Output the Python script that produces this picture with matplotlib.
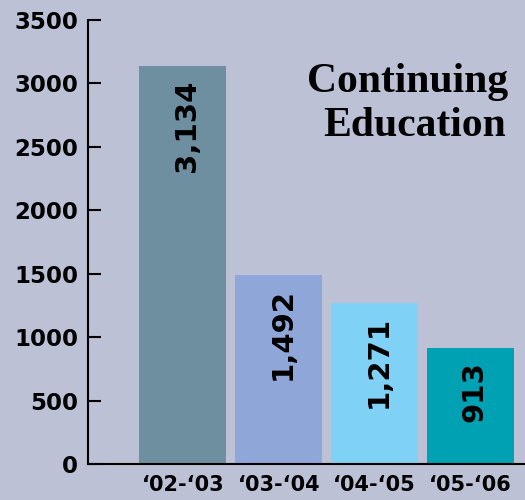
import numpy as np
from matplotlib import pyplot as plt

# data
years = ['\u201802-\u201803', '\u201803-\u201804', '\u201804-\u201805', '\u201805-\u201806']
enrolled = [3134, 1492, 1271, 913]
bar_colors = ['#6e8f9f', '#8fa7d8', '#7fd1f5', '#00a1b3']
y_ticks = [0, 500, 1000, 1500, 2000, 2500, 3000, 3500]

bg = '#bcc1d6'

fig = plt.figure(figsize=(5.25, 5), dpi=100, facecolor=bg)
ax = fig.add_axes([88/525, 36/500, 1 - 88/525, 444/500])
ax.set_facecolor(bg)

x = np.arange(len(years))
ax.bar(x, enrolled, width=0.906, color=bar_colors, zorder=2)

# value labels, rotated inside the top of each bar
for xi, v in zip(x, enrolled):
    ax.annotate(f'{v:,}', (xi, v), xytext=(4, -13), textcoords='offset pixels',
                rotation=90, ha='center', va='top', fontsize=21,
                fontweight='bold', color='black')

ax.set_xlim(-0.99, 3.57)
ax.set_ylim(0, 3500)
ax.set_yticks(y_ticks)
ax.set_yticklabels([str(t) for t in y_ticks], fontsize=16.5, fontweight='bold')
ax.set_xticks(x)
ax.set_xticklabels(years, fontsize=15, fontweight='bold')

ax.tick_params(axis='y', direction='in', length=9.5, width=1.5, pad=7)
ax.tick_params(axis='x', length=0, pad=8)

for s in ['top', 'right']:
    ax.spines[s].set_visible(False)
ax.spines['left'].set_linewidth(1.5)
ax.spines['bottom'].set_linewidth(1.5)

# title in the corner
fig.text(508/525, 1 - 92/500, 'Continuing', ha='right', va='baseline',
         fontsize=30, fontweight='bold', family='Liberation Serif')
fig.text(506/525, 1 - 136/500, 'Education', ha='right', va='baseline',
         fontsize=30, fontweight='bold', family='Liberation Serif')

fig.savefig('out.png', dpi=100, facecolor=bg)
